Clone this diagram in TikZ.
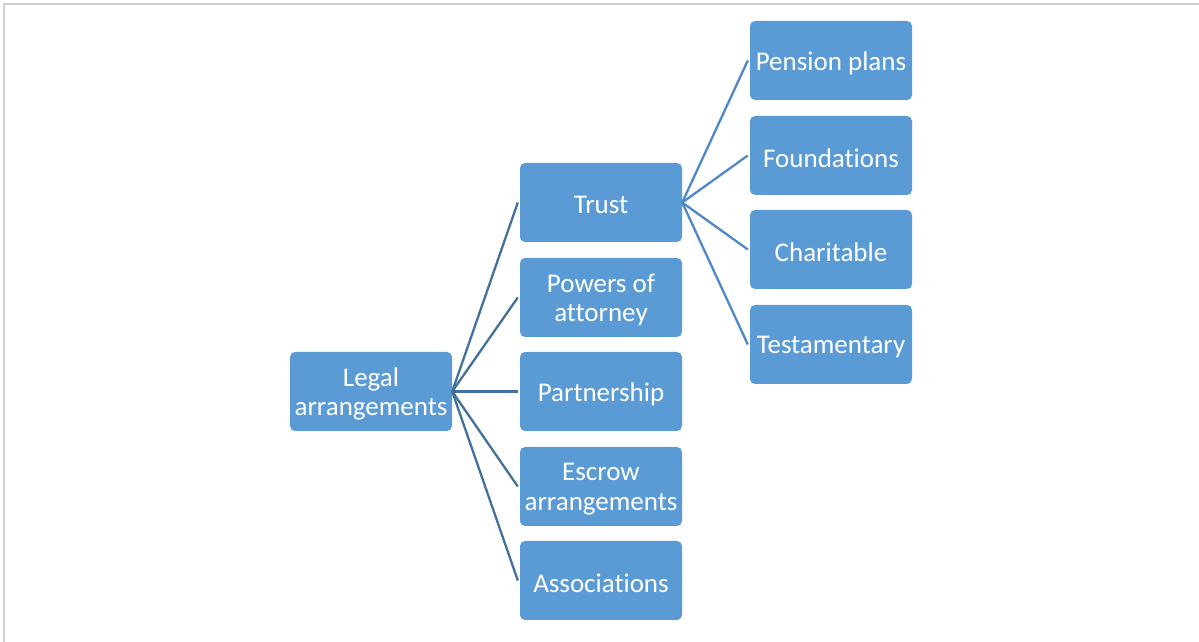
\documentclass[tikz,border=0pt]{standalone}
\usepackage{fontspec}
\setmainfont{Carlito}[RawFeature={-liga;-clig;-dlig}]
\definecolor{boxfill}{HTML}{5B9BD5}
\definecolor{linkA}{HTML}{41719C}
\definecolor{linkB}{HTML}{4F88C8}
\definecolor{frame}{HTML}{D0D0D0}
\begin{document}
\begin{tikzpicture}[x=1pt,y=1pt,
  nbox/.style={fill=boxfill, draw=none, rounded corners=5pt, minimum width=162pt, minimum height=79pt, inner sep=0pt},
  ntext/.style={text=white, align=center, inner sep=0pt, font=\fontsize{27}{29.5}\selectfont},
  linkl/.style={draw=linkA, line width=2.3pt},
  linkt/.style={draw=linkB, line width=2.3pt}]
\useasboundingbox (0,0) rectangle (1199,642);
\draw[frame, line width=2pt] (4,0) -- (4,637.5) -- (1199,637.5);
% boxes
\node[nbox] (legal) at (371,250.5) {};
\node[nbox] (trust) at (601,439.5) {};
\node[nbox] (powers) at (601,344.5) {};
\node[nbox] (partner) at (601,250.5) {};
\node[nbox] (escrow) at (601,155.5) {};
\node[nbox] (assoc) at (601,61.5) {};
\node[nbox] (pension) at (831,581.5) {};
\node[nbox] (found) at (831,486.5) {};
\node[nbox] (charit) at (831,392.5) {};
\node[nbox] (testam) at (831,297.5) {};
% texts
\node[ntext] (legal-t) at ([yshift=-2.5pt]legal.center) {Legal\\arrangements};
\node[ntext] (trust-t) at ([yshift=-2.5pt]trust.center) {Trust};
\node[ntext] (powers-t) at ([yshift=-2.5pt]powers.center) {Powers of\\attorney};
\node[ntext] (partner-t) at ([yshift=-2.5pt]partner.center) {Partnership};
\node[ntext] (escrow-t) at ([yshift=-2.5pt]escrow.center) {Escrow\\arrangements};
\node[ntext] (assoc-t) at ([yshift=-2.5pt]assoc.center) {Associations};
\node[ntext] (pension-t) at ([yshift=-2.5pt]pension.center) {Pension plans};
\node[ntext] (found-t) at ([yshift=-2.5pt]found.center) {Foundations};
\node[ntext] (charit-t) at ([yshift=-2.5pt]charit.center) {Charitable};
\node[ntext] (testam-t) at ([yshift=-2.5pt]testam.center) {Testamentary};
% connectors
\foreach \c in {trust,powers,partner,escrow,assoc}
  \draw[linkl] (legal.east) -- ([xshift=-2pt]\c.west);
\foreach \c in {pension,found,charit,testam}
  \draw[linkt] (trust.east) -- ([xshift=-2pt]\c.west);
\end{tikzpicture}
\end{document}
